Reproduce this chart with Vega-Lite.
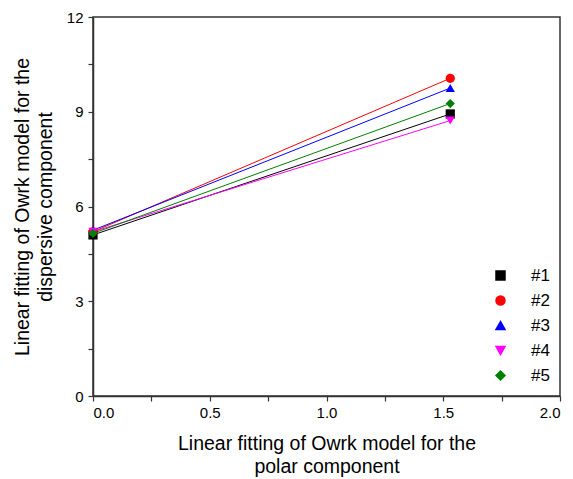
{
  "$schema": "https://vega.github.io/schema/vega-lite/v6.json",
  "autosize": "none",
  "width": 467,
  "height": 379,
  "padding": {"left": 93, "top": 17, "right": 13, "bottom": 83},
  "background": "white",
  "data": {"values": [
    {"x": 0, "y": 5.1, "s": "#1"},
    {"x": 1.53, "y": 8.93, "s": "#1"},
    {"x": 0, "y": 5.2, "s": "#2"},
    {"x": 1.53, "y": 10.06, "s": "#2"},
    {"x": 0, "y": 5.25, "s": "#3"},
    {"x": 1.53, "y": 9.75, "s": "#3"},
    {"x": 0, "y": 5.2, "s": "#4"},
    {"x": 1.53, "y": 8.72, "s": "#4"},
    {"x": 0, "y": 5.15, "s": "#5"},
    {"x": 1.53, "y": 9.26, "s": "#5"}
  ]},
  "encoding": {
    "x": {"field": "x", "type": "quantitative", "scale": {"domain": [0, 2], "nice": false},
      "axis": {"values": [0, 0.25, 0.5, 0.75, 1, 1.25, 1.5, 1.75, 2], "format": ".2f",
        "labelExpr": "datum.value % 0.5 === 0 ? format(datum.value, '.1f') : ''",
        "tickSize": 5, "labelPadding": 4,
        "title": ["Linear fitting of Owrk model for the", "polar component"], "titlePadding": 14}},
    "y": {"field": "y", "type": "quantitative", "scale": {"domain": [0, 12], "nice": false},
      "axis": {"values": [0, 1.5, 3, 4.5, 6, 7.5, 9, 10.5, 12],
        "labelExpr": "datum.value % 3 === 0 ? format(datum.value, 'd') : ''",
        "tickSize": 5, "labelPadding": 5,
        "title": ["Linear fitting of Owrk model for the", "dispersive component"], "titlePadding": 11}},
    "color": {"field": "s", "type": "nominal",
      "scale": {"domain": ["#1", "#2", "#3", "#4", "#5"], "range": ["#000000", "#ff0000", "#0000ff", "#ff00ff", "#008000"]},
      "legend": {"title": null}}
  },
  "layer": [
    {
      "mark": {"type": "line", "strokeWidth": 1}
    },
    {
      "mark": {"type": "point", "filled": true, "size": 85, "opacity": 1},
      "encoding": {
        "shape": {"field": "s", "type": "nominal",
          "scale": {"domain": ["#1", "#2", "#3", "#4", "#5"], "range": ["square", "circle", "triangle-up", "triangle-down", "diamond"]},
          "legend": {"title": null}}
      }
    }
  ],
  "config": {
    "view": {"stroke": "#333333", "strokeWidth": 1.5},
    "font": "Liberation Sans",
    "axis": {
      "grid": false,
      "domainColor": "#333333",
      "domainWidth": 1.5,
      "tickColor": "#333333",
      "tickWidth": 1.2,
      "labelFont": "Liberation Sans",
      "labelFontSize": 15,
      "labelColor": "#000000",
      "titleFont": "Liberation Sans",
      "titleFontSize": 19.5,
      "titleFontWeight": "normal",
      "titleColor": "#000000",
      "titleLineHeight": 23
    },
    "legend": {
      "orient": "none",
      "legendX": 399,
      "legendY": 250,
      "padding": 0,
      "labelFont": "Liberation Sans",
      "labelFontSize": 17,
      "labelColor": "#000000",
      "labelOffset": 22,
      "rowPadding": 7,
      "symbolSize": 81,
      "symbolOpacity": 1
    }
  }
}
